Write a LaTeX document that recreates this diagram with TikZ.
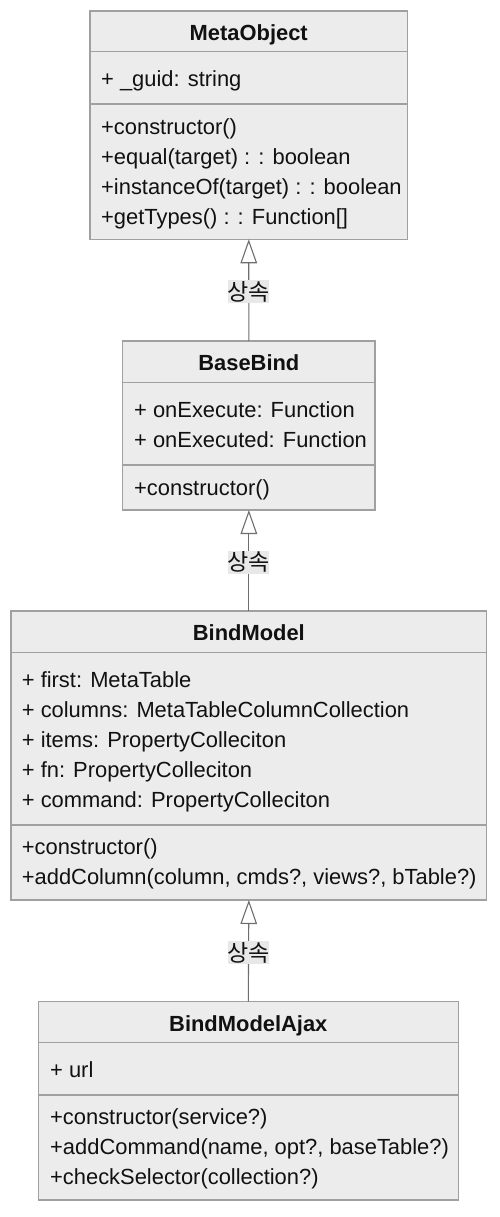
\documentclass[tikz,border=0pt]{standalone}
\usepackage{fontspec}
\setmainfont{Liberation Sans}
\newfontfamily\krfont{Noto Sans CJK KR}
\usetikzlibrary{arrows.meta}
\definecolor{boxfill}{HTML}{ECECEC}
\definecolor{boxdraw}{HTML}{A0A0A0}
\definecolor{linecol}{HTML}{6E6E6E}
\definecolor{lblfill}{HTML}{E8E8E8}
\definecolor{txt}{HTML}{111111}
\newcommand{\krlabel}[1]{\makebox[41pt][c]{#1}}
\tikzset{
  clsbox/.style={draw=boxdraw, fill=boxfill, line width=1.2pt, rectangle, inner sep=0pt, outer sep=0pt, anchor=north west},
  divider/.style={draw=boxdraw, line width=1.2pt},
  member/.style={anchor=base west, inner sep=0pt, text=txt, font=\fontsize{21.9}{30}\selectfont},
  ttl/.style={anchor=base, inner sep=0pt, text=txt, font=\fontsize{21.9}{30}\selectfont\bfseries},
  inherit/.style={draw=linecol, line width=1.1pt, -{Triangle[fill=white, length=24pt, width=16.6pt, line width=1.1pt]}},
  lbl/.style={fill=lblfill, inner sep=0pt, minimum width=41pt, minimum height=23pt, text=txt, font=\krfont\fontsize{23}{23}\selectfont}
}
\begin{document}
\begin{tikzpicture}[x=1pt, y=-1pt]
\useasboundingbox (0,0) rectangle (500,1217);
% MetaObject
\node[clsbox, minimum width=317.5pt, minimum height=228.3pt] (meta) at (90,11) {};
\draw[divider] (meta.west |- 0,51.7) -- (meta.east |- 0,51.7);
\draw[divider] (meta.west |- 0,104) -- (meta.east |- 0,104);
\node[ttl] (metaT) at (248.75,40.5) {MetaObject};
\node[member] (metaA1) at (101,86.5) {+ \_guid: string};
\node[member] (metaM1) at (101,134.5) {+constructor()};
\node[member] (metaM2) at (101,164.5) {+equal(target) : : boolean};
\node[member] (metaM3) at (101,194.5) {+instanceOf(target) : : boolean};
\node[member] (metaM4) at (101,224.5) {+getTypes() : : Function[]};
% BaseBind
\node[clsbox, minimum width=252.3pt, minimum height=169pt] (base) at (122.7,341) {};
\draw[divider] (base.west |- 0,382.3) -- (base.east |- 0,382.3);
\draw[divider] (base.west |- 0,465) -- (base.east |- 0,465);
\node[ttl] (baseT) at (248.85,370.5) {BaseBind};
\node[member] (baseA1) at (134,417.5) {+ onExecute: Function};
\node[member] (baseA2) at (134,447.5) {+ onExecuted: Function};
\node[member] (baseM1) at (134,495.5) {+constructor()};
% BindModel
\node[clsbox, minimum width=475.7pt, minimum height=289pt] (model) at (11,611) {};
\draw[divider] (model.west |- 0,652.3) -- (model.east |- 0,652.3);
\draw[divider] (model.west |- 0,825) -- (model.east |- 0,825);
\node[ttl] (modelT) at (248.85,640.5) {BindModel};
\node[member] (modelA1) at (21.7,687.5) {+ first: MetaTable};
\node[member] (modelA2) at (21.7,717.5) {+ columns: MetaTableColumnCollection};
\node[member] (modelA3) at (21.7,747.5) {+ items: PropertyColleciton};
\node[member] (modelA4) at (21.7,777.5) {+ fn: PropertyColleciton};
\node[member] (modelA5) at (21.7,807.5) {+ command: PropertyColleciton};
\node[member] (modelM1) at (21.7,854) {+constructor()};
\node[member] (modelM2) at (21.7,884) {+addColumn(column, cmds?, views?, bTable?)};
% BindModelAjax
\node[clsbox, minimum width=420pt, minimum height=198.3pt] (ajax) at (38.3,1001.7) {};
\draw[divider] (ajax.west |- 0,1042.7) -- (ajax.east |- 0,1042.7);
\draw[divider] (ajax.west |- 0,1095) -- (ajax.east |- 0,1095);
\node[ttl] (ajaxT) at (248.3,1031) {BindModelAjax};
\node[member] (ajaxA1) at (50,1077.5) {+ url};
\node[member] (ajaxM1) at (50,1124) {+constructor(service?)};
\node[member] (ajaxM2) at (50,1154) {+addCommand(name, opt?, baseTable?)};
\node[member] (ajaxM3) at (50,1184) {+checkSelector(collection?)};
% inheritance connectors
\draw[inherit] (base.north) -- node[lbl, pos=0.5, yshift=-1.5pt] (l1) {\krlabel{상속}} (meta.south);
\draw[inherit] (model.north) -- node[lbl, pos=0.5, yshift=-1.5pt] (l2) {\krlabel{상속}} (base.south);
\draw[inherit] (ajax.north) -- node[lbl, pos=0.5, yshift=-2pt] (l3) {\krlabel{상속}} (model.south);
\end{tikzpicture}
\end{document}
